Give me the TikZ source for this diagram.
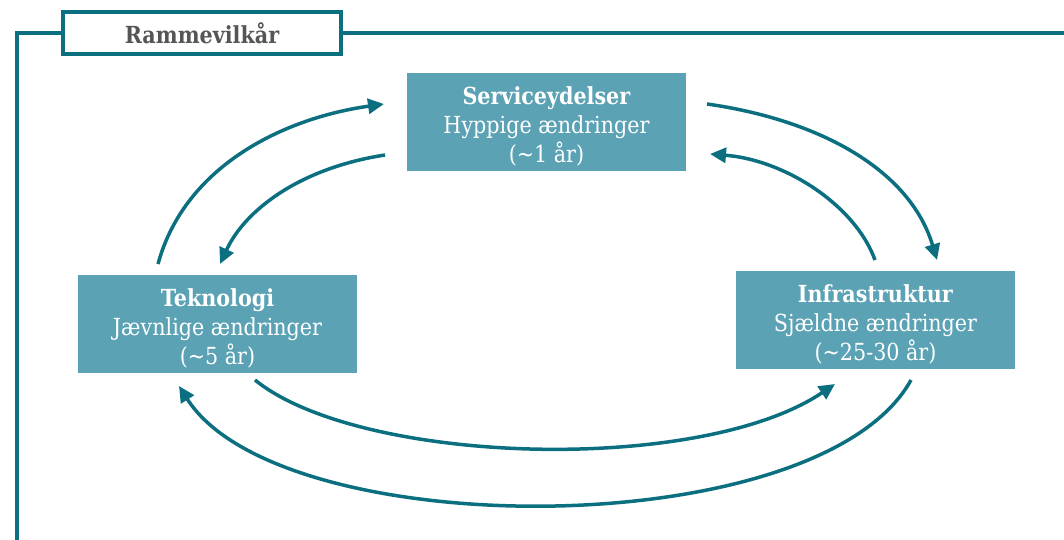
\documentclass[tikz,border=0pt]{standalone}
\usepackage{fontspec}
\setmainfont{DejaVu Serif}[FakeStretch=0.88]
\usetikzlibrary{arrows.meta}
\definecolor{teal1}{HTML}{0B6F80}
\definecolor{boxfill}{HTML}{5AA2B4}
\definecolor{labelgray}{HTML}{555555}
\newcommand{\firststrut}{\rule{0pt}{26pt}}
\tikzset{
  framebox/.style={draw=teal1, line width=3.2pt, fill=white, minimum width=278pt, minimum height=42pt, inner sep=0pt, text=labelgray, font=\fontsize{23.5}{26}\selectfont\bfseries},
  infobox/.style={fill=boxfill, minimum width=279pt, minimum height=98pt, inner sep=0pt, text=white, align=center, font=\fontsize{23.5}{29}\selectfont},
  conn/.style={draw=teal1, line width=3.5pt, -{Triangle[length=16pt,width=15pt]}},
  frameline/.style={draw=teal1, line width=3.2pt},
}
\begin{document}
\begin{tikzpicture}[x=1pt,y=-1pt]
\useasboundingbox (0,0) rectangle (1064,540);
% frame
\coordinate (fbl) at (17,541);
\coordinate (ftl) at (17,33);
\coordinate (fr) at (1065,33);
\node[framebox] (label) at (202,33) {Rammevilkår};
\draw[frameline] (fbl) -- (ftl) -- (label.west);
\draw[frameline] (label.east) -- (fr);
% boxes
\node[infobox] (serv) at (546.5,122) {\firststrut\textbf{Serviceydelser}\\Hyppige ændringer\\(\textasciitilde 1 år)};
\node[infobox] (tek) at (217.5,324) {\firststrut\textbf{Teknologi}\\Jævnlige ændringer\\(\textasciitilde 5 år)};
\node[infobox] (inf) at (875.5,320) {\firststrut\textbf{Infrastruktur}\\Sjældne ændringer\\(\textasciitilde 25-30 år)};
% anchors for connectors
\coordinate (a1s) at (158,264);
\coordinate (a1e) at (384,104);
\coordinate (a2s) at (385,155);
\coordinate (a2e) at (220,264);
\coordinate (a3s) at (707,104);
\coordinate (a3e) at (937,260);
\coordinate (a4s) at (875,260);
\coordinate (a4e) at (710,154);
\coordinate (a5s) at (255,380);
\coordinate (a5e) at (835,384);
\coordinate (a6s) at (911,380);
\coordinate (a6e) at (179,386);
\draw[conn] (a1s) .. controls (185,165) and (285,118) .. (a1e);
\draw[conn] (a2s) .. controls (300,168) and (245,210) .. (a2e);
\draw[conn] (a3s) .. controls (820,120) and (910,170) .. (a3e);
\draw[conn] (a4s) .. controls (855,205) and (785,160) .. (a4e);
\draw[conn] (a5s) .. controls (360,465) and (700,475) .. (a5e);
\draw[conn] (a6s) .. controls (820,545) and (280,545) .. (a6e);
\end{tikzpicture}
\end{document}
